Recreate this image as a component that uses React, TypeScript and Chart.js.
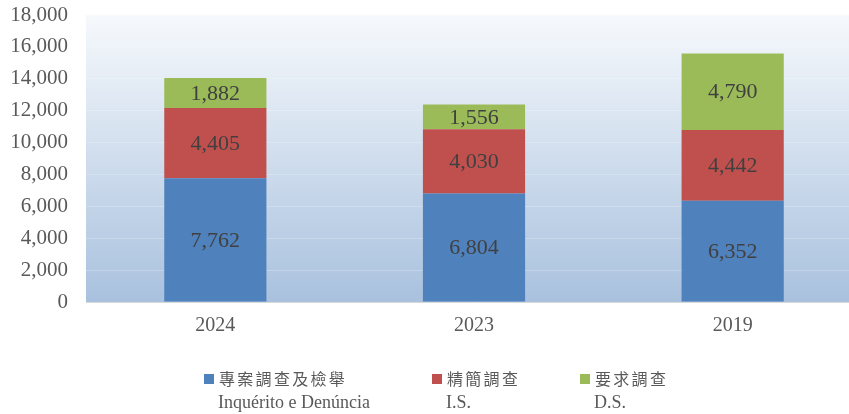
import React, { useEffect, useRef } from "react";
import { Chart, registerables } from "chart.js";

Chart.register(...registerables);

const categories = ["2024", "2023", "2019"];
const inqueritoValues = [7762, 6804, 6352];
const isValues = [4405, 4030, 4442];
const dsValues = [1882, 1556, 4790];
const seriesZh = ["專案調查及檢舉", "精簡調查", "要求調查"];
const seriesPt = ["Inquérito e Denúncia", "I.S.", "D.S."];
const seriesColors = ["#4f81bd", "#c0504d", "#9bbb59"];
const yTicks = [0, 2000, 4000, 6000, 8000, 10000, 12000, 14000, 16000, 18000];

const SERIF = "'Liberation Serif', 'Times New Roman', serif";
const CJK = "'Noto Sans CJK TC', 'Noto Sans CJK SC', sans-serif";

const fmt = (v: number) => v.toLocaleString("en-US");

const bgPlugin = {
  id: "bgGradient",
  beforeDraw(chart: any) {
    const { ctx, chartArea } = chart;
    if (!chartArea) return;
    const g = ctx.createLinearGradient(0, chartArea.top, 0, chartArea.bottom);
    g.addColorStop(0, "#f6f9fc");
    g.addColorStop(1, "#a9c1de");
    ctx.save();
    ctx.fillStyle = g;
    ctx.fillRect(chartArea.left, chartArea.top, chartArea.right - chartArea.left, chartArea.bottom - chartArea.top);
    ctx.restore();
  },
};

const labelPlugin = {
  id: "segLabels",
  afterDatasetsDraw(chart: any) {
    const { ctx } = chart;
    ctx.save();
    ctx.font = `22px ${SERIF}`;
    ctx.fillStyle = "#404040";
    ctx.textAlign = "center";
    ctx.textBaseline = "middle";
    chart.data.datasets.forEach((ds: any, di: number) => {
      const meta = chart.getDatasetMeta(di);
      meta.data.forEach((bar: any, i: number) => {
        const y = (bar.y + bar.base) / 2;
        ctx.fillText(fmt(ds.data[i]), bar.x, y + 1);
      });
    });
    ctx.restore();
  },
};

const legendPlugin = {
  id: "customLegend",
  afterDraw(chart: any) {
    const { ctx } = chart;
    const xs = [204, 432, 580];
    ctx.save();
    ctx.textBaseline = "middle";
    ctx.textAlign = "left";
    xs.forEach((x, i) => {
      ctx.fillStyle = seriesColors[i];
      ctx.fillRect(x, 374, 10, 10);
      ctx.fillStyle = "#595959";
      ctx.font = `16px ${CJK}`;
      const chars = Array.from(seriesZh[i]);
      chars.forEach((ch, k) => {
        ctx.fillText(ch, x + 15 + k * 18.3, 379);
      });
      ctx.font = `18px ${SERIF}`;
      ctx.fillText(seriesPt[i], x + 14, 403);
    });
    ctx.restore();
  },
};

export default function App() {
  const ref = useRef<HTMLCanvasElement | null>(null);
  useEffect(() => {
    if (!ref.current) return;
    const chart = new Chart(ref.current, {
      type: "bar",
      data: {
        labels: categories,
        datasets: [
          { label: seriesZh[0], data: inqueritoValues, backgroundColor: seriesColors[0] },
          { label: seriesZh[1], data: isValues, backgroundColor: seriesColors[1] },
          { label: seriesZh[2], data: dsValues, backgroundColor: seriesColors[2] },
        ],
      },
      options: {
        animation: false,
        responsive: false,
        maintainAspectRatio: false,
        layout: { padding: { top: 15, bottom: 64, left: 0, right: 0 } },
        datasets: { bar: { categoryPercentage: 1, barPercentage: 0.395 } } as any,
        plugins: {
          legend: { display: false },
          tooltip: { enabled: false },
        },
        scales: {
          x: {
            stacked: true,
            grid: { display: false, drawTicks: false },
            border: { display: true, color: "#d9d9d9" },
            ticks: { color: "#595959", font: { family: SERIF, size: 20 }, padding: 12 },
          },
          y: {
            stacked: true,
            min: 0,
            max: 18000,
            afterBuildTicks: (s: any) => {
              s.ticks = yTicks.map((v) => ({ value: v }));
            },
            afterFit: (s: any) => {
              s.width = 86;
            },
            grid: {
              color: "rgba(255,255,255,0.22)",
              drawTicks: true,
              tickLength: 18,
              tickColor: "rgba(0,0,0,0)",
            },
            border: { display: false },
            ticks: {
              color: "#595959",
              font: { family: SERIF, size: 21 },
              padding: 0,
              callback: (v: any) => fmt(Number(v)),
            },
          },
        },
      },
      plugins: [bgPlugin, labelPlugin, legendPlugin],
    });
    return () => chart.destroy();
  }, []);
  return (
    <div style={{ position: "fixed", left: 0, top: 0, width: 849, height: 414, overflow: "hidden", background: "#fff" }}>
      <canvas ref={ref} width={862} height={414} style={{ display: "block", width: 862, height: 414 }} />
    </div>
  );
}
